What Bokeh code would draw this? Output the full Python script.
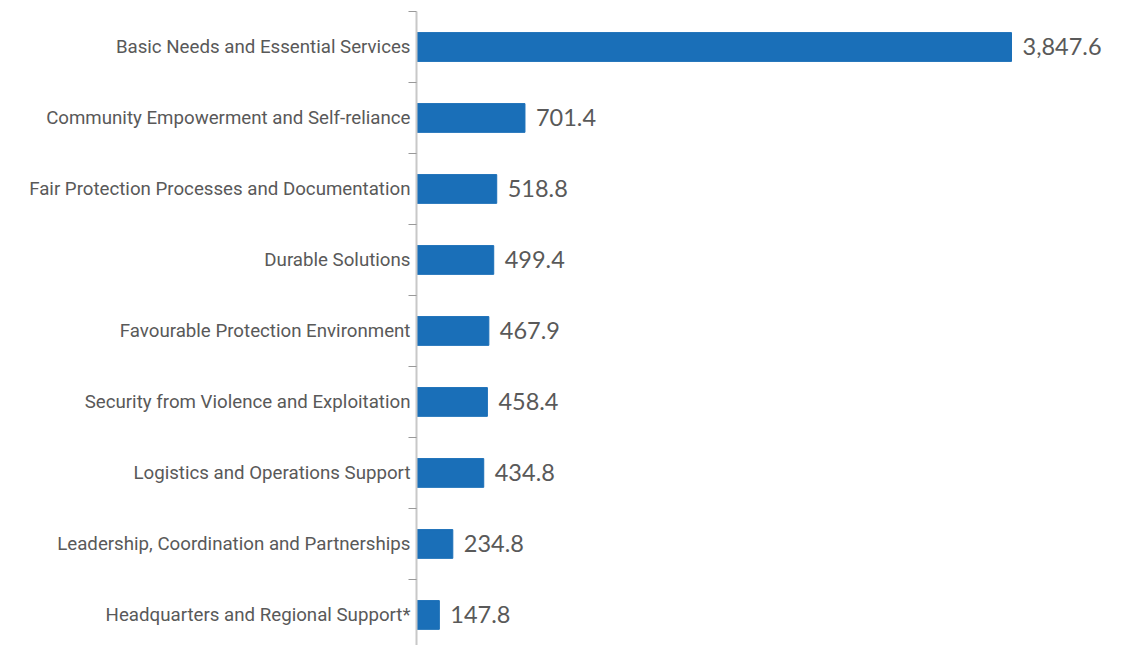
from bokeh.plotting import figure
from bokeh.models import Range1d, FixedTicker, ColumnDataSource
from bokeh.core.properties import value
from bokeh.embed import file_html
from bokeh.resources import INLINE

categories = [
    "Basic Needs and Essential Services",
    "Community Empowerment and Self-reliance",
    "Fair Protection Processes and Documentation",
    "Durable Solutions",
    "Favourable Protection Environment",
    "Security from Violence and Exploitation",
    "Logistics and Operations Support",
    "Leadership, Coordination and Partnerships",
    "Headquarters and Regional Support*",
]
values = [3847.6, 701.4, 518.8, 499.4, 467.9, 458.4, 434.8, 234.8, 147.8]

n = len(categories)
ys = [n - i for i in range(n)]
labels = [f"{v:,.1f}" for v in values]

src = ColumnDataSource(dict(y=ys, v=values, lab=labels, cat=categories))

p = figure(width=1117, height=645, x_range=Range1d(0, 4533), y_range=Range1d(0.57, n + 0.5),
           output_backend="svg", toolbar_location=None, x_axis_location=None,
           min_border_left=416, min_border_right=0, min_border_top=11, min_border_bottom=0)
p.outline_line_color = None
p.grid.visible = False

p.hbar(y="y", right="v", left=0, height=0.405, source=src, color="#1a6fb8")
p.text(x="v", y="y", text="lab", source=src, x_offset=11, text_baseline="middle",
       text_align="left", text_font=value("Lato"), text_font_size="23.5px", text_color="#595959")

ax = p.yaxis[0]
ax.ticker = FixedTicker(ticks=ys, minor_ticks=[i + 0.5 for i in range(n + 1)])
ax.major_label_overrides = {float(y): c for y, c in zip(ys, categories)}
ax.major_tick_out = 0
ax.major_tick_in = 0
ax.minor_tick_out = 8
ax.minor_tick_in = 0
ax.minor_tick_line_color = "#999999"
ax.axis_line_color = "#c8c8c8"
ax.axis_line_width = 2
ax.major_label_standoff = -2
ax.major_label_text_font = "Roboto"
ax.major_label_text_font_size = "18.7px"
ax.major_label_text_color = "#595959"

open("out.html", "w").write(file_html(p, INLINE))
